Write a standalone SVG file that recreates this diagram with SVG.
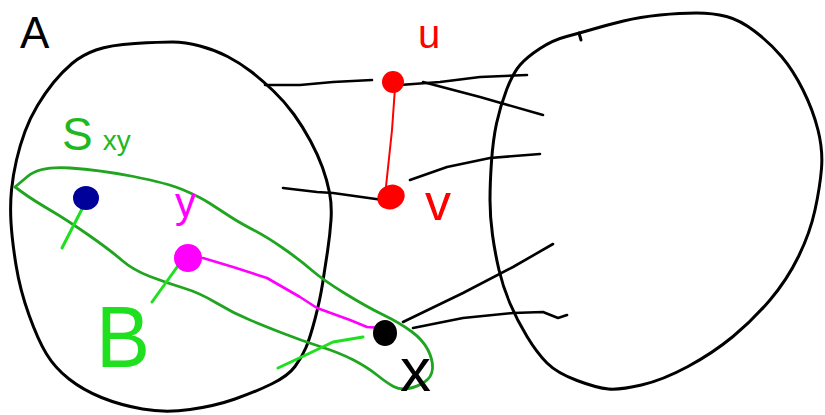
<svg xmlns="http://www.w3.org/2000/svg" width="825" height="415" viewBox="0 0 825 415">
<style>
.blob{fill:none;stroke:#000;stroke-width:3;stroke-linejoin:round;stroke-linecap:round}
.edge{fill:none;stroke:#000;stroke-width:2.6;stroke-linecap:round;stroke-linejoin:round}
.red{fill:none;stroke:#f00;stroke-width:2;stroke-linecap:round}
.mag{fill:none;stroke:#f0f;stroke-width:2.6;stroke-linecap:round;stroke-linejoin:round}
.sxy{fill:none;stroke:#1fa51f;stroke-width:2.8;stroke-linejoin:round;stroke-linecap:round}
.tick{fill:none;stroke:#1ee01e;stroke-width:3;stroke-linecap:round;stroke-linejoin:round}
.lbl{font-family:"Liberation Sans","DejaVu Sans",sans-serif}
</style>
<rect width="825" height="415" fill="#fff"/>
<g id="setA">
<path class="blob" d="M11.5,190 Q13,175 16.5,160 Q20,145 25,131.5 Q30,118 37.5,105.5 Q45,93 53.5,82.5 Q62,72 72,63.5 Q82,55 96,50 Q110,45 135,43.5 Q160,42 172.5,42 Q185,42 200,46 Q215,50 227.5,56.5 Q240,63 251,71.5 Q262,80 273.5,91 Q285,102 294,114.5 Q303,127 310.5,141 Q318,155 322.5,167.5 Q327,180 329.5,192.5 Q332,205 331,220 Q330,235 327.5,251.5 Q325,268 322.5,284 Q320,300 315,319 Q310,338 306,347.5 Q302,357 295,366.5 Q288,376 271.5,384 Q255,392 235,399 Q215,406 190,409.5 Q165,413 142.5,409 Q120,405 101.5,397.5 Q83,390 69,379 Q55,368 46.5,354 Q38,340 29,315 Q20,290 16,265 Q12,240 11,222.5 Q10,205 11.5,190 Z"/>
<text class="lbl" x="20" y="48" font-size="44" fill="#000">A</text>
</g>
<g id="setB">
<path class="blob" d="M566.5,36.5 Q553,40 540,48.5 Q527,57 520,65 Q513,73 506.5,90 Q500,107 496.5,123.5 Q493,140 491.5,161.5 Q490,183 490,200 Q490,217 492.5,235 Q495,253 499,270 Q503,287 510,303.5 Q517,320 527,336.5 Q537,353 547,363 Q557,373 577,380.5 Q597,388 608.5,389 Q620,390 641.5,385 Q663,380 688,366.5 Q713,353 733,336.5 Q753,320 770,300 Q787,280 798.5,256.5 Q810,233 815,210 Q820,187 821.5,168.5 Q823,150 818,130 Q813,110 803,90 Q793,70 781.5,56.5 Q770,43 755,31.5 Q740,20 726.5,16.5 Q713,13 696.5,13 Q680,13 660,15 Q640,17 623.5,21 Q607,25 593.5,29 Q580,33 566.5,36.5 Z"/>
<path class="blob" d="M579,33 L581,40"/>
</g>
<g id="Sxy">
<path class="sxy" d="M15,187 L27.5,176.5 Q40,166 70,168 Q100,170 133.5,176.5 Q167,183 183.5,190 Q200,197 210,203.5 Q220,210 230,216.5 Q240,223 253.5,230 Q267,237 283.5,248.5 Q300,260 311.5,270 Q323,280 345,293.5 Q367,307 383.5,315 Q400,323 411.5,331.5 Q423,340 428,350 Q433,360 432.5,368.5 Q432,377 424.5,382 Q417,387 408.5,388.5 Q400,390 393.5,386.5 Q387,383 377,375 Q367,367 353.5,360 Q340,353 320,346.5 Q300,340 283.5,333.5 Q267,327 250,320 Q233,313 216.5,303 Q200,293 183.5,288 Q167,283 150,276.5 Q133,270 121.5,260 Q110,250 88.5,235 Q67,220 50,210 Q33,200 24,193.5 Z"/>
<text class="lbl" x="62" y="150" font-size="46" fill="#1fb81f">S<tspan dx="10" font-size="28">xy</tspan></text>
</g>
<g id="labelB">
<text class="lbl" x="96" y="367" font-size="88" fill="#1ee01e" textLength="54" lengthAdjust="spacingAndGlyphs">B</text>
</g>
<g id="connectors">
<path class="edge" d="M265,85 L300,85 L333,82 L372,80"/>
<path class="edge" d="M400,85 L440,82 L480,77 L527,75"/>
<path class="edge" d="M423,82 L480,97 L543,115"/>
<path class="edge" d="M283,188 L317,192 L333,193 L383,200"/>
<path class="edge" d="M410,180 L447,167 L490,158 L540,154"/>
<path class="edge" d="M403,322 L463,293 L513,267 L553,244"/>
<path class="edge" d="M413,328 L463,318 L513,313 L543,312 L558,318 L567,315"/>
<path class="red" d="M395,88 L392,130 L385,196"/>
<path class="mag" d="M203,258 L233,267 L267,278 L300,297 L317,308 L350,320 L367,327 L382,328"/>
<path class="tick" d="M83,207 L62,248"/>
<path class="tick" d="M180,263 L152,302"/>
<path class="tick" d="M363,337 L333,342 L310,353 L278,368"/>
</g>
<g id="u">
<circle cx="393" cy="82" r="11" fill="#f00"/>
<text class="lbl" x="418" y="48" font-size="40" fill="#f00">u</text>
</g>
<g id="v">
<ellipse cx="391" cy="197" rx="14" ry="12" fill="#f00" transform="rotate(-25 391 197)"/>
<text class="lbl" x="425" y="220" font-size="52" fill="#f00">v</text>
</g>
<g id="blueNode">
<ellipse cx="86" cy="198" rx="13" ry="12" fill="#00009a"/>
</g>
<g id="y">
<circle cx="188" cy="258" r="14" fill="#f0f"/>
<text class="lbl" x="175" y="217" font-size="42" fill="#f0f">y</text>
</g>
<g id="x">
<ellipse cx="385" cy="333" rx="12" ry="13" fill="#000"/>
<text class="lbl" x="400" y="391" font-size="62" fill="#000">x</text>
</g>
</svg>
